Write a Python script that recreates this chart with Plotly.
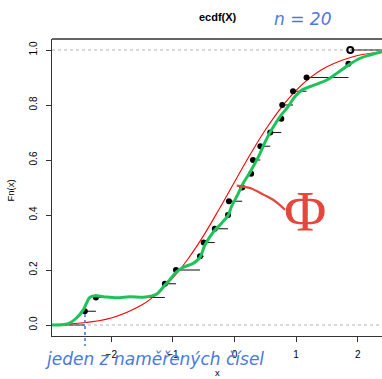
import plotly.graph_objects as go

# ---- data ----
x_obs = [-2.43, -2.25, -1.13, -0.95, -0.56, -0.50, -0.32, -0.105, -0.09, 0.125,
         0.27, 0.30, 0.42, 0.58, 0.76, 0.775, 0.95, 1.17, 1.85, 1.88]
n_obs = len(x_obs)
levels = [(i + 1) / n_obs for i in range(n_obs)]

# theoretical normal CDF (red)
normal_x = [-3.0, -2.5, -2.0, -1.5, -1.25, -1.0, -0.75, -0.5, -0.25, 0.0,
            0.25, 0.5, 0.75, 1.0, 1.25, 1.5, 2.0, 2.5]
normal_y = [0.0016, 0.0071, 0.0256, 0.0735, 0.115, 0.171, 0.242, 0.326, 0.421, 0.520,
            0.618, 0.709, 0.788, 0.853, 0.903, 0.939, 0.980, 0.995]

# hand-drawn smooth curve (green)
smooth_x = [-3.0, -2.70, -2.56, -2.45, -2.40, -2.35, -2.26, -2.13, -1.91, -1.70,
            -1.48, -1.34, -1.26, -1.13, -1.05, -0.94, -0.83, -0.67, -0.56, -0.48,
            -0.34, -0.21, -0.10, -0.05, 0.05, 0.14, 0.25, 0.39, 0.50, 0.60,
            0.74, 0.87, 0.98, 1.10, 1.30, 1.50, 1.66, 1.85, 2.04, 2.20, 2.36, 2.42]
smooth_y = [0.0, 0.005, 0.027, 0.057, 0.081, 0.100, 0.106, 0.103, 0.099, 0.103,
            0.101, 0.106, 0.113, 0.145, 0.165, 0.193, 0.210, 0.224, 0.246, 0.291,
            0.339, 0.370, 0.400, 0.430, 0.473, 0.515, 0.555, 0.612, 0.667, 0.709,
            0.758, 0.794, 0.830, 0.855, 0.873, 0.891, 0.915, 0.945, 0.970, 0.982, 0.992, 0.995]

# red pointer stroke from the curve to the Phi label
pointer_x = [0.036, 0.25, 0.47, 0.66, 0.82]
pointer_y = [0.507, 0.498, 0.474, 0.450, 0.419]

x_range = [-2.963, 2.395]
y_range = [-0.04, 1.04]
x_ticks = [-2, -1, 0, 1, 2]
y_ticks = [0.0, 0.2, 0.4, 0.6, 0.8, 1.0]
y_tick_labels = ["0.0", "0.2", "0.4", "0.6", "0.8", "1.0"]

BLUE = "#4a78e0"
REDPEN = "#e5483b"
GREEN = "#1ec25a"
FONT = "Liberation Sans, Arial, sans-serif"

# ---- step segments ----
seg_x, seg_y = [x_range[0] - 1, x_obs[0], None], [0, 0, None]
for i in range(n_obs):
    x_end = x_obs[i + 1] if i + 1 < n_obs else x_range[1] + 1
    seg_x += [x_obs[i], x_end, None]
    seg_y += [levels[i], levels[i], None]

fig = go.Figure()
fig.add_trace(go.Scatter(x=seg_x, y=seg_y, mode="lines",
                         line=dict(color="#222222", width=1.1), hoverinfo="skip"))
fig.add_trace(go.Scatter(x=normal_x, y=normal_y, mode="lines", line_shape="spline",
                         line=dict(color="#ff0000", width=1.1), hoverinfo="skip"))
fig.add_trace(go.Scatter(x=x_obs[:-1], y=levels[:-1], mode="markers",
                         marker=dict(color="black", size=6), hoverinfo="skip"))
fig.add_trace(go.Scatter(x=x_obs[-1:], y=levels[-1:], mode="markers",
                         marker=dict(color="black", size=6, symbol="circle-open",
                                     line=dict(width=2, color="#111111")), hoverinfo="skip"))
fig.add_trace(go.Scatter(x=smooth_x, y=smooth_y, mode="lines", line_shape="spline",
                         line=dict(color=GREEN, width=3), hoverinfo="skip"))
fig.add_trace(go.Scatter(x=pointer_x, y=pointer_y, mode="lines", line_shape="spline",
                         line=dict(color=REDPEN, width=2.2), hoverinfo="skip"))

shapes = [
    dict(type="line", xref="paper", yref="y", x0=0, x1=1, y0=0, y1=0,
         line=dict(color="#b3b3b3", width=1, dash="3px,3px"), layer="below"),
    dict(type="line", xref="paper", yref="y", x0=0, x1=1, y0=1, y1=1,
         line=dict(color="#b3b3b3", width=1, dash="3px,3px"), layer="below"),
    dict(type="line", xref="paper", yref="paper", x0=0, x1=1, y0=1, y1=1,
         line=dict(color="#333333", width=1.3)),
    dict(type="line", xref="paper", yref="paper", x0=0.10, x1=0.10, y0=0.074, y1=-0.034,
         line=dict(color=BLUE, width=1.6, dash="dot")),
]


def note(text, x, y, size, color, family=FONT, style="normal", angle=0):
    return dict(text=text, xref="paper", yref="paper", x=x, y=y, xanchor="center",
                yanchor="middle", showarrow=False, textangle=angle,
                font=dict(family=family, size=size, color=color, style=style))


annotations = [
    note("<b>ecdf(X)</b>", 0.503, 1.074, 11, "black"),
    note("n = 20", 0.758, 1.067, 17, BLUE, family="DejaVu Sans", style="italic"),
    note("Fn(x)", -0.127, 0.49, 9.5, "black", angle=-90),
    note("x", 0.50, -0.123, 9.5, "black"),
    note("jeden z naměřených čísel", 0.31, -0.076, 17, BLUE, family="DejaVu Sans", style="italic"),
    note("Φ", 0.767, 0.42, 58, REDPEN, family="Liberation Serif"),
]

fig.update_layout(
    width=382, height=379, autosize=False,
    margin=dict(l=52, r=0, t=39, b=43, pad=0),
    paper_bgcolor="white", plot_bgcolor="white",
    showlegend=False, shapes=shapes, annotations=annotations,
    font=dict(family=FONT, size=10, color="black"),
)
fig.update_xaxes(range=x_range, tickvals=x_ticks, showgrid=False, zeroline=False,
                 showline=True, linecolor="#333333", linewidth=1.3,
                 ticks="outside", ticklen=5, tickcolor="#333333", tickwidth=1,
                 ticklabelstandoff=4, tickfont=dict(size=10))
fig.update_yaxes(range=y_range, tickvals=y_ticks, ticktext=y_tick_labels, showgrid=False,
                 zeroline=False, showline=True, linecolor="#333333", linewidth=1.3,
                 ticks="outside", ticklen=5, tickcolor="#333333", tickwidth=1,
                 tickangle=-90, ticklabelstandoff=5, tickfont=dict(size=10))

fig.write_html("out.html", config={"displayModeBar": False},
               post_script="document.body.style.margin='0px';document.body.style.overflow='hidden';")
